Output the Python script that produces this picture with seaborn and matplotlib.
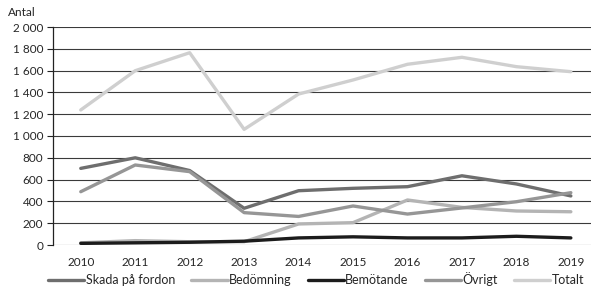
import matplotlib
matplotlib.use("Agg")
import matplotlib.pyplot as plt
import seaborn as sns
import pandas as pd
from matplotlib.ticker import FuncFormatter

years = [2010, 2011, 2012, 2013, 2014, 2015, 2016, 2017, 2018, 2019]
skada = [703, 800, 683, 337, 498, 520, 535, 635, 560, 450]
bedomning = [20, 40, 30, 30, 193, 205, 413, 345, 312, 305]
bemotande = [15, 20, 25, 35, 65, 75, 65, 65, 80, 65]
ovrigt = [489, 734, 673, 297, 262, 358, 284, 340, 397, 480]
totalt = [1239, 1599, 1764, 1061, 1385, 1514, 1658, 1722, 1636, 1590]

series_names = ["Skada på fordon", "Bedömning", "Bemötande", "Övrigt", "Totalt"]
series_vals = [skada, bedomning, bemotande, ovrigt, totalt]
colors = ["#6e6e6e", "#b4b4b4", "#1c1c1c", "#969696", "#cfcfcf"]

rows = []
for name, vals in zip(series_names, series_vals):
    for y, v in zip(years, vals):
        rows.append({"År": y, "Antal": v, "Serie": name})
df = pd.DataFrame(rows)

sns.set_theme(style="white")
plt.rcParams["font.family"] = ["Lato", "DejaVu Sans"]

fig = plt.figure(figsize=(5.91, 2.96), dpi=100)
ax = fig.add_axes([53 / 591, 1 - 245 / 296, 1 - 53 / 591, (245 - 27) / 296])

sns.lineplot(data=df, x="År", y="Antal", hue="Serie", hue_order=series_names,
             palette=colors, linewidth=2.4, ax=ax, legend=True)

ax.set_xlim(2009.49, 2019.37)
ax.set_ylim(0, 2000)
ax.set_yticks(range(0, 2001, 200))
ax.yaxis.set_major_formatter(FuncFormatter(lambda v, p: f"{int(v):,}".replace(",", " ")))
ax.set_xticks(years)
ax.grid(axis="y", color="#3a3a3a", linewidth=0.8)
ax.set_axisbelow(True)
for s in ["top", "right", "bottom"]:
    ax.spines[s].set_visible(False)
ax.spines["left"].set_color("#222222")
ax.spines["left"].set_linewidth(0.9)
ax.tick_params(axis="y", length=4, width=0.8, color="#222222", pad=3, labelsize=8.5, left=True)
ax.tick_params(axis="x", length=0, pad=9, labelsize=8.5)
ax.set_xlabel("")
ax.set_ylabel("")
fig.text(8 / 591, 1 - 13 / 296, "Antal", fontsize=8.5, va="center", ha="left")

handles, labels = ax.get_legend_handles_labels()
ax.get_legend().remove()
fig.legend(handles, labels, loc="center", bbox_to_anchor=(316 / 591, 1 - 279 / 296),
           ncol=5, frameon=False, fontsize=9, handlelength=2.9, handletextpad=0.1,
           columnspacing=1.3)

fig.savefig("out.png", dpi=100)
